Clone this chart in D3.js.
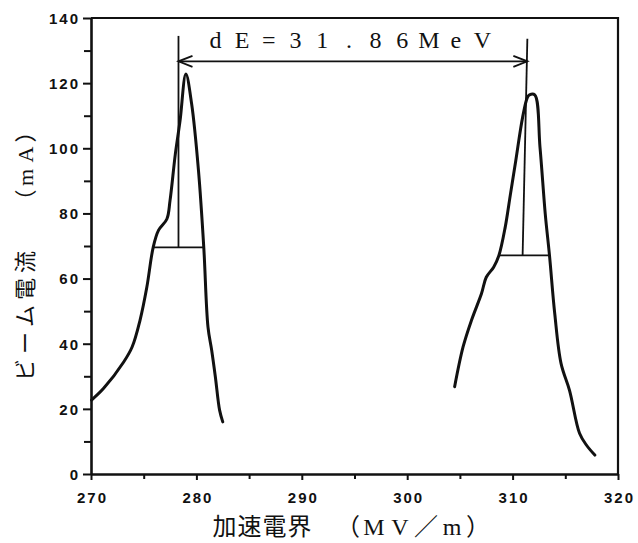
<!DOCTYPE html>
<html>
<head>
<meta charset="utf-8">
<script src="https://cdn.jsdelivr.net/npm/d3@7"></script>
<style>
  body { margin: 0; background: #fff; }
</style>
</head>
<body>
<svg id="chart" width="638" height="543"></svg>
<script>
// beam current vs accelerating field, two resonance peaks
const peak1E = [270.05, 271.2, 273.1, 273.9, 274.65, 275.3, 275.9, 276.4, 277.2, 277.5, 278.0, 278.45, 279.0, 279.55, 280.2, 280.7, 281.1, 281.45, 281.8, 282.2, 282.5];
const peak1I = [22.7, 26.3, 34.4, 39.0, 47.2, 57.4, 69.6, 74.8, 78.3, 84.0, 98.2, 108.5, 122.8, 113.6, 93.1, 69.6, 45.1, 38.0, 29.8, 19.6, 16.0];

const peak2E = [304.5, 305.3, 306.1, 307.05, 307.5, 308.2, 308.7, 309.3, 309.8, 310.3, 310.95, 311.4, 311.6, 312.1, 312.6, 313.1, 313.5, 314.0, 314.6, 315.4, 316.35, 317.0, 317.8];
const peak2I = [26.8, 39.0, 47.2, 55.4, 60.4, 63.5, 67.1, 75.8, 86.0, 96.2, 109.5, 115.6, 116.4, 116.4, 100.3, 79.8, 67.1, 49.2, 33.9, 25.7, 12.5, 8.9, 5.8];

// half maximum widths: [from, to, level]
const halfMaxLines = [[275.9, 280.75, 69.6], [308.7, 313.5, 67.1]];
// peak centre marks: [x bottom, y bottom, x top, y top]
const centerLines = [[278.3, 69.6, 278.3, 134.5], [310.95, 67.1, 311.4, 133.6]];
const arrowLevel = 126.7;
const dELabel = "dE=31.86MeV";

const xMajor = [270, 280, 290, 300, 310, 320];
const xMinor = [275, 285, 295, 305, 315];
const yMajor = [0, 20, 40, 60, 80, 100, 120, 140];
const yMinor = [10, 30, 50, 70, 90, 110, 130];

const xLabelLeft = "加速電界";
const xLabelRight = "（MV／m）";
const yLabelMain = "ビーム電流";
const yLabelUnit = "（mA）";

const svg = d3.select('#chart');

const x = d3.scaleLinear().domain([270, 320]).range([91, 618]);
const y = d3.scaleLinear().domain([0, 140]).range([474, 18]);

const tickFont = "'Liberation Sans', Arial, sans-serif";
const cjkFont = "'Noto Sans CJK JP', sans-serif";
const serifFont = "'Liberation Serif', 'DejaVu Serif', serif";

// frame: top and right border
svg.append('path')
  .attr('d', `M${x(270)},${y(140)}H${x(320)}V${y(0)}`)
  .attr('fill', 'none')
  .attr('stroke', '#111')
  .attr('stroke-width', 2.2);

// minor ticks first (no labels)
svg.append('g')
  .attr('transform', `translate(0,${y(0)})`)
  .call(d3.axisBottom(x).tickValues(xMinor).tickSize(5).tickFormat(''))
  .call(g => g.select('.domain').remove());
svg.append('g')
  .attr('transform', `translate(${x(270)},0)`)
  .call(d3.axisLeft(y).tickValues(yMinor).tickSize(7).tickFormat(''))
  .call(g => g.select('.domain').remove());

const xAxisG = svg.append('g')
  .attr('transform', `translate(0,${y(0)})`)
  .call(d3.axisBottom(x).tickValues(xMajor).tickSize(6).tickSizeOuter(0).tickPadding(12));

const yAxisG = svg.append('g')
  .attr('transform', `translate(${x(270)},0)`)
  .call(d3.axisLeft(y).tickValues(yMajor).tickSize(8).tickSizeOuter(0).tickPadding(3));

svg.selectAll('.tick line').attr('stroke', '#111').attr('stroke-width', 2);
[xAxisG, yAxisG].forEach(g => {
  g.select('.domain').attr('stroke', '#111').attr('stroke-width', 2.6);
  g.selectAll('text')
    .attr('font-family', tickFont)
    .attr('font-weight', 'bold')
    .attr('font-size', 15)
    .attr('letter-spacing', 2)
    .attr('fill', '#111');
});
xAxisG.selectAll('text').attr('dx', 1);
yAxisG.selectAll('text').attr('dy', '0.36em');

// the two measured curves
const line = d3.line()
  .x(d => x(d[0]))
  .y(d => y(d[1]))
  .curve(d3.curveCatmullRom.alpha(0.5));

[[peak1E, peak1I], [peak2E, peak2I]].forEach(([es, is]) => {
  svg.append('path')
    .datum(d3.zip(es, is))
    .attr('d', line)
    .attr('fill', 'none')
    .attr('stroke', '#111')
    .attr('stroke-width', 3)
    .attr('stroke-linejoin', 'round')
    .attr('stroke-linecap', 'round');
});

// half-max widths and centre marks
const annot = svg.append('g')
  .attr('stroke', '#111')
  .attr('stroke-width', 1.8)
  .attr('fill', 'none');

halfMaxLines.forEach(d => {
  annot.append('line')
    .attr('x1', x(d[0])).attr('x2', x(d[1]))
    .attr('y1', y(d[2])).attr('y2', y(d[2]));
});
centerLines.forEach(d => {
  annot.append('line')
    .attr('x1', x(d[0])).attr('y1', y(d[1]))
    .attr('x2', x(d[2])).attr('y2', y(d[3]));
});

// double arrow between the two centres
const ax1 = x(centerLines[0][2]);
const ax2 = x(centerLines[1][2]);
const ay = y(arrowLevel);
annot.append('line').attr('x1', ax1).attr('x2', ax2).attr('y1', ay).attr('y2', ay);
annot.append('path').attr('d', `M${ax1 + 14},${ay - 5.5}L${ax1},${ay}L${ax1 + 14},${ay + 5.5}`);
annot.append('path').attr('d', `M${ax2 - 14},${ay - 5.5}L${ax2},${ay}L${ax2 - 14},${ay + 5.5}`);

// helper: lay characters out at a fixed pitch, like the typeset original
function isCJK(ch) {
  return /[\u3000-\u9fff\uff00-\uffef]/.test(ch);
}
function pitchText(parent, str, cx, cy, pitch, size, latinFont) {
  const chars = Array.from(str);
  const t = parent.append('text')
    .attr('font-size', size)
    .attr('fill', '#111')
    .attr('text-anchor', 'middle');
  const start = cx - (chars.length - 1) * pitch / 2;
  chars.forEach((ch, i) => {
    t.append('tspan')
      .attr('x', start + i * pitch)
      .attr('y', cy)
      .attr('font-family', isCJK(ch) ? cjkFont : latinFont)
      .text(ch);
  });
  return t;
}

// dE label
pitchText(svg, dELabel, (x(centerLines[0][2]) + x(centerLines[1][2])) / 2 - 4, 48, 26.7, 24, serifFont);

// x axis title
pitchText(svg, xLabelLeft, 262, 535, 25, 24, serifFont);
pitchText(svg, xLabelRight, 413, 535, 26, 24, serifFont);

// y axis title (rotated, reading upward)
const yTitle = svg.append('g').attr('transform', 'translate(33,0) rotate(-90)');
pitchText(yTitle, yLabelMain, -316, 0, 27, 22, serifFont);
pitchText(yTitle, yLabelUnit, -166, 0, 23, 22, serifFont);
</script>
</body>
</html>
